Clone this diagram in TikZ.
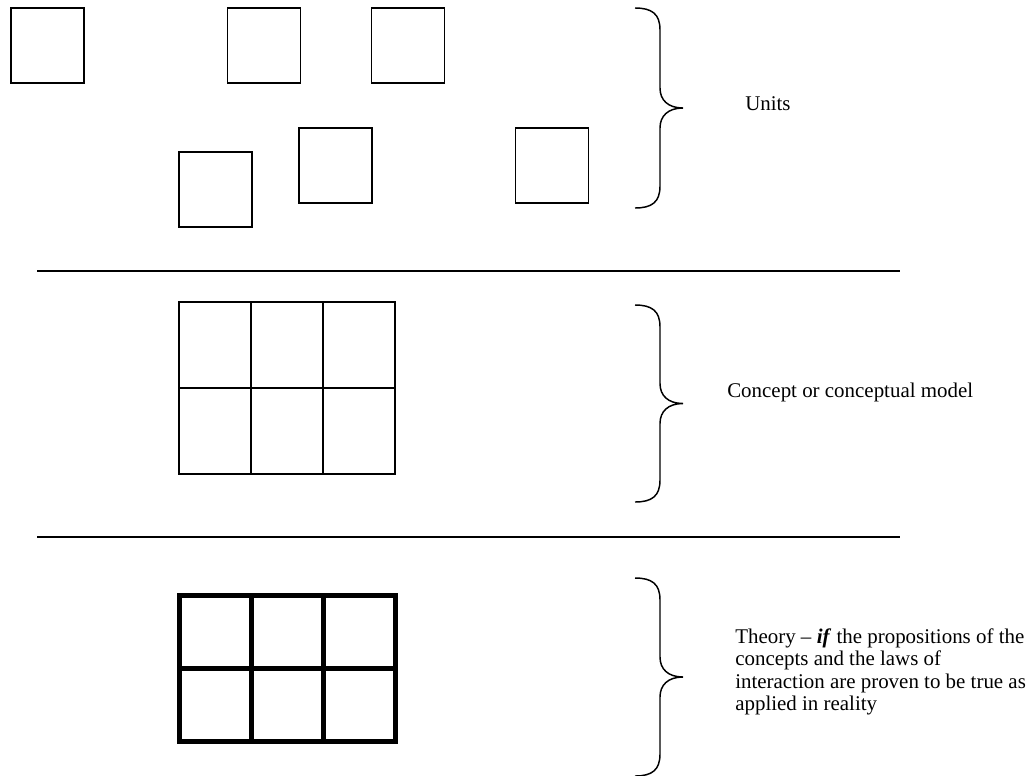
\documentclass[tikz,border=0pt]{standalone}
\usepackage{fontspec}
\setmainfont{Liberation Serif}
\usetikzlibrary{positioning}

% curly brace drawn like the word-processor one: top, bottom (in px)
\newcommand{\levelbrace}[2]{%
  \pgfmathsetmacro{\bmid}{(#1+#2)/2}
  \draw[bracket] (635,#1) .. controls (652,#1) and (660,{#1+6}) .. (660,{#1+22})
    -- (660,{\bmid-20}) .. controls (660,{\bmid-8}) and (668,\bmid) .. (683,\bmid)
    .. controls (668,\bmid) and (660,{\bmid+8}) .. (660,{\bmid+20})
    -- (660,{#2-22}) .. controls (660,{#2-6}) and (652,#2) .. (635,#2);}

\begin{document}
\begin{tikzpicture}[x=0.75pt, y=-0.75pt,
      unit/.style={draw, line width=1.1pt, minimum width=54.75pt,
                   minimum height=56.25pt, inner sep=0pt},
      cell/.style={draw, line width=1.1pt, minimum width=54pt,
                   minimum height=64.5pt, inner sep=0pt},
      boldcell/.style={draw, line width=3.75pt, minimum width=54pt,
                   minimum height=54.75pt, inner sep=0pt},
      divider/.style={line width=1.1pt},
      bracket/.style={line width=1.1pt},
      label/.style={font=\fontsize{15.7}{16.9}\selectfont, inner sep=0pt,
                    align=left}]
  \useasboundingbox (0,0) rectangle (1031,775);

  % loose units
  \node[unit] (u1) at (47.5,45.5)  {};
  \node[unit] (u2) at (264,45.5)   {};
  \node[unit] (u3) at (408,45.5)   {};
  \node[unit] (u4) at (215.5,189.5) {};
  \node[unit] (u5) at (335.5,165.5) {};
  \node[unit] (u6) at (552,165.5)  {};

  \draw[divider] (37,271) -- (900,271);

  % concept grid
  \foreach \c in {0,1,2}
    \foreach \r in {0,1}
      \node[cell] (c\r\c) at ({215+72*\c},{345+86*\r}) {};

  \draw[divider] (37,537) -- (900,537);

  % theory grid
  \foreach \c in {0,1,2}
    \foreach \r in {0,1}
      \node[boldcell] (t\r\c) at ({215+72*\c},{631.5+73*\r}) {};

  \levelbrace{8}{208}
  \levelbrace{305}{502}
  \levelbrace{578}{776}

  \node[label, anchor=base west] (units) at (745,110) {Units};
  \node[label, anchor=base west] (concept) at (727,397)
    {Concept or conceptual model};
  \node[label, anchor=north west] (theory) at (735,628)
    {Theory -- \textbf{\textit{if}} the propositions of the\\
     concepts and the laws of\\
     interaction are proven to be true as\\
     applied in reality};
\end{tikzpicture}
\end{document}
